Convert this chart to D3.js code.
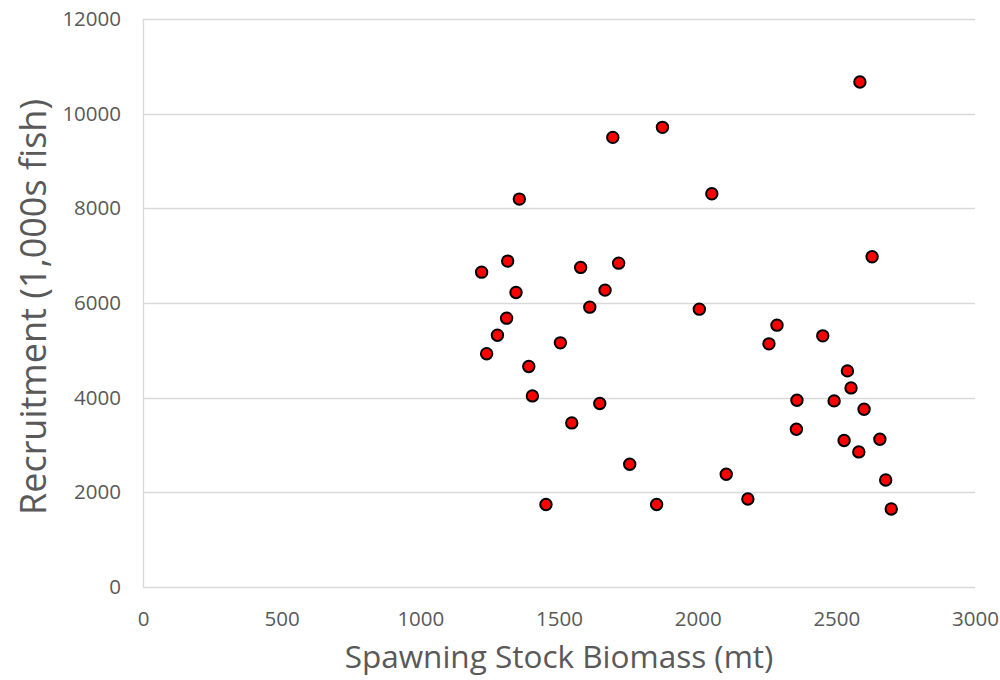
<!DOCTYPE html>
<html>
<head>
<meta charset="utf-8">
<script src="https://cdn.jsdelivr.net/npm/d3@7"></script>
<style>
body { margin:0; background:#fff; }
text { font-family:"Open Sans", "Noto Sans", sans-serif; fill:#595959; }
</style>
</head>
<body>
<svg></svg>
<script>
// spawning stock biomass (mt)
var ssb = [1221,1239,1315,1278,1311,1345,1357,1391,1404,1453,1505,1546,1578,1611,1666,1694,1715,1647,1755,1852,1873,
           2006,2051,2103,2181,2257,2286,2358,2356,2451,2492,2528,2540,2553,2585,2581,2600,2629,2657,2678,2698];
// recruitment (1,000s fish)
var recruits = [6652,4929,6885,5320,5680,6223,8195,4659,4037,1742,5158,3467,6752,5912,6272,9499,6842,3877,2594,1742,9711,
                5870,8307,2382,1860,5137,5532,3946,3333,5306,3932,3095,4566,4206,10668,2854,3756,6976,3122,2262,1649];
var xTicks = [0,500,1000,1500,2000,2500,3000];
var yTicks = [0,2000,4000,6000,8000,10000,12000];

var points = ssb.map(function(s,i){ return {ssb:s, rec:recruits[i]} });

//----------setup-------------
var screen = {width:1000, height:680}
var margins = {left:143, right:25, top:19, bottom:93}
var graph = {
	width: screen.width - margins.left - margins.right,
	height: screen.height - margins.top - margins.bottom
}
var svg = d3.select("svg")
	.attr("width",screen.width)
	.attr("height",screen.height)

var xScale = d3.scaleLinear().domain([0,3000]).range([0,graph.width])
var yScale = d3.scaleLinear().domain([0,12000]).range([graph.height,0])

var target = svg.append("g")
	.attr("transform","translate(" + margins.left + "," + margins.top + ")")

//----------grid + axes-------------
target.append("g")
	.selectAll("line")
	.data(yTicks)
	.enter()
	.append("line")
	.attr("x1",0)
	.attr("x2",graph.width)
	.attr("y1",function(d){ return Math.round(yScale(d))+0.5 })
	.attr("y2",function(d){ return Math.round(yScale(d))+0.5 })
	.attr("stroke","#d9d9d9")
	.attr("stroke-width",1.3)

target.append("line")
	.attr("x1",0.5).attr("x2",0.5)
	.attr("y1",0).attr("y2",graph.height)
	.attr("stroke","#d9d9d9")
	.attr("stroke-width",1.3)

var yAxis = d3.axisLeft(yScale).tickValues(yTicks).tickSize(0).tickPadding(22).tickFormat(d3.format("d"))
target.append("g").call(yAxis)
	.call(function(g){ g.select(".domain").remove() })
	.selectAll("text")
	.style("font-size","20.5px")
	.attr("fill","#595959")

var xAxis = d3.axisBottom(xScale).tickValues(xTicks).tickSize(0).tickPadding(24).tickFormat(d3.format("d"))
target.append("g")
	.attr("transform","translate(0," + graph.height + ")")
	.call(xAxis)
	.call(function(g){ g.select(".domain").remove() })
	.selectAll("text")
	.style("font-size","20.5px")
	.attr("fill","#595959")

//----------points-------------
target.selectAll("circle")
	.data(points)
	.enter()
	.append("circle")
	.attr("cx",function(d){ return xScale(d.ssb) })
	.attr("cy",function(d){ return yScale(d.rec) })
	.attr("r",5.7)
	.attr("fill","#ff0000")
	.attr("stroke","#000")
	.attr("stroke-width",2)

//----------labels-------------
svg.append("text")
	.text("Spawning Stock Biomass (mt)")
	.attr("text-anchor","middle")
	.attr("x",559)
	.attr("y",668)
	.style("font-size","31.5px")

svg.append("text")
	.text("Recruitment (1,000s fish)")
	.attr("text-anchor","middle")
	.attr("transform","translate(46,307) rotate(-90)")
	.style("font-size","36px")
</script>
</body>
</html>
